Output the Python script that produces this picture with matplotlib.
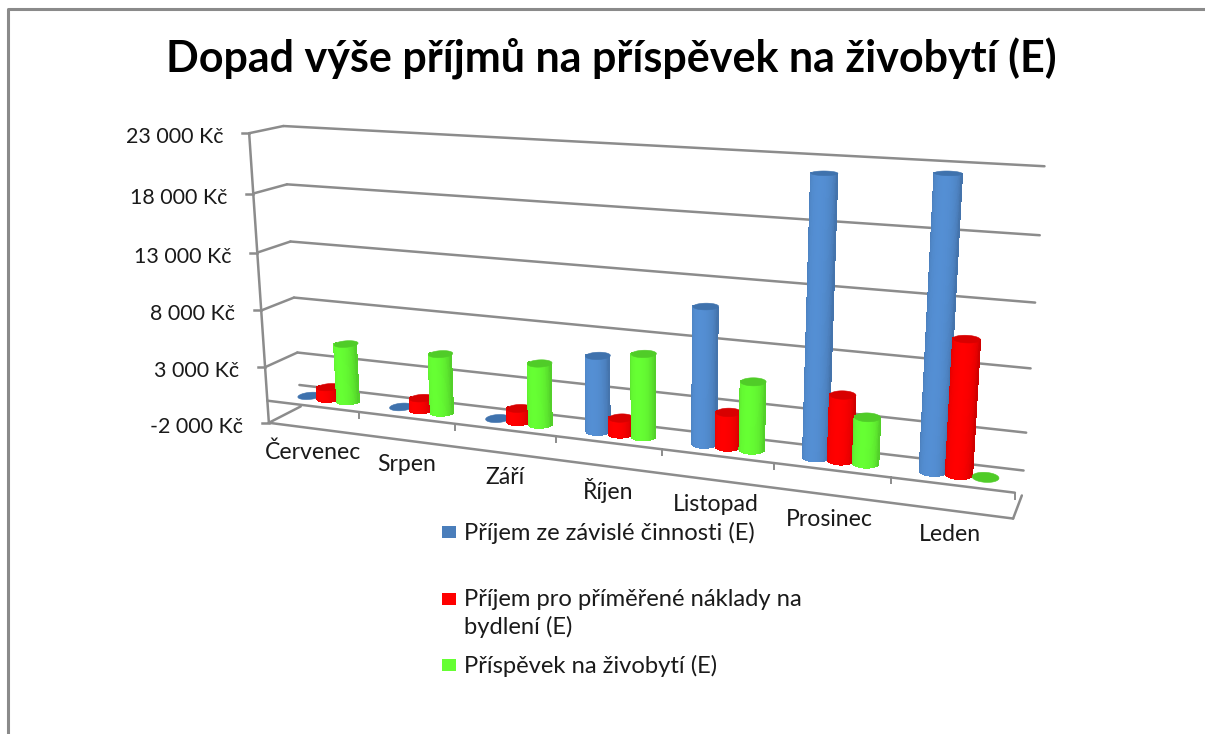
import numpy as np
import matplotlib
matplotlib.use('Agg')
import matplotlib.pyplot as plt
from matplotlib.collections import PolyCollection
from matplotlib.patches import Polygon, Rectangle

months = ['Červenec', 'Srpen', 'Září', 'Říjen', 'Listopad', 'Prosinec', 'Leden']
prijem_cinnost = [0, 0, 0, 6300, 11150, 22000, 22500]
prijem_bydleni = [1000, 1000, 1100, 1300, 2800, 5200, 10450]
prispevek = [5050, 5050, 5150, 6850, 5500, 3650, 0]
tick_values = [23000, 18000, 13000, 8000, 3000, -2000]
tick_labels = ['23 000 Kč', '18 000 Kč', '13 000 Kč', '8 000 Kč', '3 000 Kč', '-2 000 Kč']
legend_lines = ['Příjem ze závislé činnosti (E)',
                'Příjem pro příměřené náklady na\nbydlení (E)',
                'Příspěvek na živobytí (E)']
title = 'Dopad výše příjmů na příspěvek na živobytí (E)'

series_colors = [(0.33, 0.56, 0.83), (1.0, 0.0, 0.0), (0.40, 1.0, 0.20)]
cap_colors = ['#3f72ad', '#d80000', '#50cc28']
legend_colors = ['#4a7ebb', '#ff0000', '#66ff33']
grid_color = '#8c8c8c'
text_color = '#1a1a1a'

plt.rcParams['font.family'] = ['Lato', 'DejaVu Sans']

# camera: fitted from the corners of the chart box, (u, v, w) -> pixel
# u = along months 0..1, v = value -2000..23000 as 0..1, w = 0 front, 1 back
box_3d = [(0, 1, 0), (0, 0, 0), (0, 0.08, 0), (0, 1, 1), (0, 0.8, 1), (0, 0.6, 1), (0, 0.4, 1), (0, 0.2, 1),
          (0, 0.08, 1), (0, 0, 1), (1, 0, 0), (1, 0.08, 0), (1, 1, 1), (1, 0.8, 1), (1, 0.6, 1), (1, 0.4, 1),
          (1, 0.2, 1), (1, 0.08, 1), (1, 0, 1), (1/7, 0.08, 0), (2/7, 0.08, 0), (3/7, 0.08, 0), (4/7, 0.08, 0),
          (5/7, 0.08, 0), (6/7, 0.08, 0)]
box_px = [(249.3, 134), (269.3, 422.7), (266.7, 401.7), (283, 125.7), (286.7, 184), (291, 241), (294, 297), (298, 352),
          (299, 385), (301, 407), (1013, 518), (1016, 491), (1045, 166), (1039, 236), (1035, 303), (1031, 368),
          (1026, 433), (1024, 471), (1021, 496), (359, 412), (456, 423), (555, 438), (662, 448),
          (774, 463), (891, 478)]

rows, rhs = [], []
for (u, v, w), (px, py) in zip(box_3d, box_px):
    rows.append([u, v, w, 1, 0, 0, 0, 0, -px*u, -px*v, -px*w])
    rows.append([0, 0, 0, 0, u, v, w, 1, -py*u, -py*v, -py*w])
    rhs += [px, py]
sol = np.linalg.lstsq(np.array(rows, float), np.array(rhs, float), rcond=None)[0]
P = np.append(sol, 1.0).reshape(3, 4)


def project(u, v, w):
    u, v, w = np.broadcast_arrays(u, v, w)
    pts = np.stack([u, v, w, np.ones_like(u, dtype=float)], axis=-1)
    h = pts @ P.T
    return h[..., 0]/h[..., 2], h[..., 1]/h[..., 2]


def val(x):
    return (np.asarray(x, float) + 2000)/25000


def seg(ax, a, b, **kw):
    x, y = project(np.array([a[0], b[0]], float), np.array([a[1], b[1]], float), np.array([a[2], b[2]], float))
    ax.plot(x, y, color=grid_color, lw=kw.pop('lw', 1.8), solid_capstyle='round', **kw)


def cylinder(ax, pos, value, color, cap, z):
    r_u = 0.108/7
    r_w = 0.22
    uc = pos/7
    if value > 0:
        th = np.linspace(0, np.pi, 41)
        us = uc - r_u*np.cos(th)
        ws = 0.5 - r_w*np.sin(th)
        xb, yb = project(us, val(0), ws)
        xt, yt = project(us, val(value), ws)
        # outline first so the edges stay smooth, strips on top without antialiasing
        outline = np.column_stack([np.r_[xb, xt[::-1]], np.r_[yb, yt[::-1]]])
        edge = tuple(np.array(color)*0.80)
        ax.add_patch(Polygon(outline, closed=True, facecolor=edge, edgecolor=edge, lw=0.5, zorder=z))
        quads, cols = [], []
        for i in range(len(th) - 1):
            quads.append([(xb[i], yb[i]), (xb[i+1], yb[i+1]), (xt[i+1], yt[i+1]), (xt[i], yt[i])])
            m = 0.5*(th[i] + th[i+1])
            shade = 0.80 + 0.20*np.sin(m)**0.8
            cols.append(tuple(np.array(color)*shade))
        ax.add_collection(PolyCollection(quads, facecolors=cols, edgecolors=cols, linewidths=0.6,
                                         antialiaseds=False, zorder=z))
    th = np.linspace(0, 2*np.pi, 61)
    x, y = project(uc + r_u*np.cos(th), val(value), 0.5 + r_w*np.sin(th))
    ax.add_patch(Polygon(np.column_stack([x, y]), closed=True, facecolor=cap, edgecolor=cap, lw=0.4, zorder=z))


fig = plt.figure(figsize=(12.05, 7.34), dpi=100)
ax = fig.add_axes([0, 0, 1, 1])
ax.set_xlim(0, 1205)
ax.set_ylim(734, 0)
ax.axis('off')

# slide frame, open on the right
ax.plot([8, 8, 1205], [734, 9, 9], color='#8a8a8a', lw=2.2)

ax.text(611, 59, title, fontsize=31, fontweight='bold', color='black', ha='center', va='center')

# walls and floor
for t in tick_values:
    v = val(t)
    seg(ax, (0, v, 0), (0, v, 1))
    if t > -2000:
        seg(ax, (0, v, 1), (1, v, 1))
    x, y = project(0, v, 0)
    ax.plot([x - 7, x], [y, y], color=grid_color, lw=1.8)
seg(ax, (0, 1, 0), (0, 0, 0))
seg(ax, (0, val(0), 1), (1, val(0), 1))
seg(ax, (0, 0, 0), (1, 0, 0))
seg(ax, (1, 0, 0), (1, 0, 1))
seg(ax, (0, val(0), 0), (1, val(0), 0))
for k in range(1, 8):
    x, y = project(k/7, val(0), 0)
    ax.plot([x, x], [y, y + 6], color=grid_color, lw=1.4)

for lab, t in zip(tick_labels, tick_values):
    x, y = project(0, val(t), 0)
    ax.text(x - 26, y + 4, lab, fontsize=15.4, color=text_color, ha='right', va='center')

for k, m in enumerate(months):
    x, y = project((k + 0.5)/7, 0, 0)
    ax.text(x - 1, y + 24, m, fontsize=16.6, color=text_color, ha='center', va='center')

series = [prijem_cinnost, prijem_bydleni, prispevek]
for k in range(len(months)):
    for s in range(3):
        cylinder(ax, k + 0.51 + (s - 1)*0.217, series[s][k], series_colors[s], cap_colors[s], 3 + s*0.1)

# legend
legend_y = [532, 599, 665]
for y, lab, c in zip(legend_y, legend_lines, legend_colors):
    ax.add_patch(Rectangle((442, y - 6), 14, 12, facecolor=c, edgecolor='none'))
    ax.text(464, y - 10, lab, fontsize=17.1, color=text_color, ha='left', va='top', linespacing=1.3)

fig.savefig('out.png', dpi=100)
